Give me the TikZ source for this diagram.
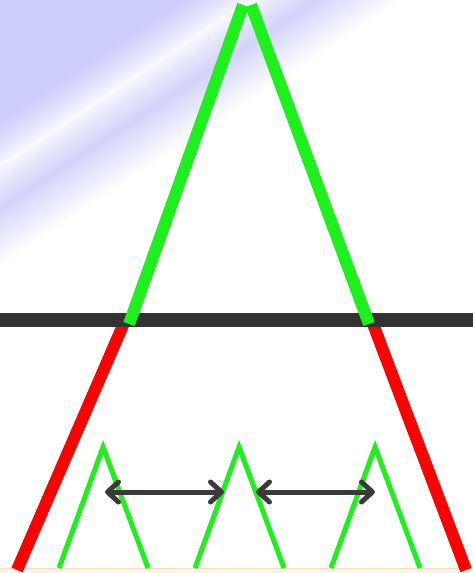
\documentclass[tikz,border=0pt]{standalone}
\usetikzlibrary{arrows.meta}

\definecolor{peakgreen}{RGB}{30,240,30}
\definecolor{legred}{RGB}{255,0,0}
\definecolor{bargray}{RGB}{51,51,51}
\definecolor{arrowgray}{RGB}{58,58,58}
\definecolor{glowblue}{RGB}{206,206,250}
\definecolor{streakwhite}{RGB}{248,248,255}
\definecolor{edgebeige}{RGB}{250,226,180}

\pgfdeclareverticalshading{skyglow}{100bp}{color(0bp)=(white); color(25bp)=(white);
  color(43bp)=(white); color(47bp)=(glowblue!90); color(48.6bp)=(glowblue!55);
  color(50bp)=(streakwhite); color(51.2bp)=(glowblue!55); color(53bp)=(glowblue);
  color(75bp)=(glowblue); color(100bp)=(glowblue)}

\tikzset{
  shadowed/.style={preaction={draw=black, opacity=0.12,
      transform canvas={shift={(1.5pt,-2pt)}}}},
  leg/.style={line width=12pt, shadowed},
  bar/.style={draw=bargray, line width=14pt, shadowed},
  small peak/.style={draw=peakgreen, line width=5pt, shadowed},
  gap arrow/.style={draw=arrowgray, line width=5pt, line cap=round,
    {Straight Barb[round, length=11pt, width=20pt]}-{Straight Barb[round, length=11pt, width=20pt]}}
}

\begin{document}
\begin{tikzpicture}[x=1pt, y=-1pt]
  \useasboundingbox (0,0) rectangle (473,573);

  % Background glow
  \begin{scope}
    \clip (0,0) rectangle (473,573);
    \begin{scope}[transform canvas={shift={(0,165)}, rotate=33.4}]
      \shade[shading=skyglow] (-300,-300) rectangle (900,300);
    \end{scope}
  \end{scope}
  \fill[black!4] (0,568) rectangle (473,573);
  \draw[edgebeige, line width=1pt] (0,568) -- (473,568);

  % Big peak
  \coordinate (topL) at (243,5);
  \coordinate (topR) at (251,5);
  \coordinate (cutL) at (129,324);
  \coordinate (cutR) at (369,324);
  \coordinate (redL) at (127,316);
  \coordinate (redR) at (370,316);
  \coordinate (footL) at (17,570);
  \coordinate (footR) at (466,570);
  \coordinate (barL) at (0,320);
  \coordinate (barR) at (473,320);

  \draw[leg, legred] (redL) -- (footL);
  \draw[leg, legred] (redR) -- (footR);
  \draw[bar] (barL) -- (barR);
  \draw[leg, peakgreen] (topL) -- (cutL);
  \draw[leg, peakgreen] (topR) -- (cutR);

  % Small peaks
  \foreach \x [count=\i] in {103,239,375} {
    \coordinate (peak\i) at (\x,447);
    \draw[small peak] (peak\i) ++(-44,121) -- (peak\i) -- ++(45,121);
  }

  % Spacing arrows
  \coordinate (gapA) at (105,492);
  \coordinate (gapB) at (224,492);
  \coordinate (gapC) at (256,492);
  \coordinate (gapD) at (375,492);
  \draw[gap arrow] (gapA) -- (gapB);
  \draw[gap arrow] (gapC) -- (gapD);
\end{tikzpicture}
\end{document}
